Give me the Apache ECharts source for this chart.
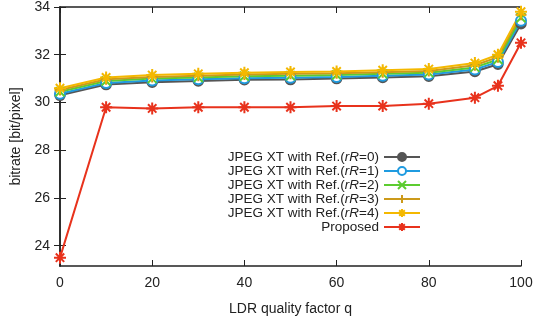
<!DOCTYPE html>
<html>
<head>
<meta charset="utf-8">
<script src="https://cdn.jsdelivr.net/npm/echarts@6/dist/echarts.min.js"></script>
<style>
  html, body { margin: 0; padding: 0; background: #fff; }
  #chart { width: 541px; height: 321px; }
</style>
</head>
<body>
<div id="chart"></div>
<script>
// LDR quality factor q
const quality = [0, 10, 20, 30, 40, 50, 60, 70, 80, 90, 95, 100]

// bitrate [bit/pixel]
const refR0 = [30.30, 30.75, 30.85, 30.90, 30.95, 30.96, 31.00, 31.05, 31.10, 31.30, 31.60, 33.30]
const refR1 = [30.37, 30.82, 30.92, 30.97, 31.02, 31.04, 31.07, 31.12, 31.17, 31.38, 31.70, 33.42]
const refR2 = [30.45, 30.90, 31.00, 31.05, 31.10, 31.12, 31.15, 31.20, 31.25, 31.47, 31.80, 33.55]
const refR3 = [30.52, 30.97, 31.07, 31.12, 31.17, 31.20, 31.22, 31.27, 31.32, 31.56, 31.90, 33.68]
const refR4 = [30.60, 31.05, 31.15, 31.20, 31.25, 31.28, 31.30, 31.35, 31.40, 31.65, 32.00, 33.80]
const proposed = [23.50, 29.80, 29.75, 29.80, 29.80, 29.80, 29.85, 29.85, 29.95, 30.20, 30.70, 32.50]

const seriesNames = [
  "JPEG XT with Ref.(rR=0)",
  "JPEG XT with Ref.(rR=1)",
  "JPEG XT with Ref.(rR=2)",
  "JPEG XT with Ref.(rR=3)",
  "JPEG XT with Ref.(rR=4)",
  "Proposed",
]
const yTicks = [24, 26, 28, 30, 32, 34]

const crossPath = "path://M0,0L10,10M10,0L0,10"
const plusPath = "path://M5,0L5,10M0,5L10,5"
const starPath = "path://M5,0L5,10M0,5L10,5M1.5,1.5L8.5,8.5M8.5,1.5L1.5,8.5"

const chart = echarts.init(document.getElementById("chart"))

function makeSeries(name, values, color, symbol, size, stroke) {
  return {
    name,
    type: "line",
    data: quality.map((q, i) => [q, values[i]]),
    symbol,
    symbolSize: size,
    lineStyle: { color, width: 2 },
    itemStyle: stroke
      ? { color, borderColor: color, borderWidth: 2 }
      : { color, borderColor: color, borderWidth: 1.5 },
    animation: false,
  }
}

const fontFamily = "Liberation Sans, Arial, sans-serif"
const axisText = { color: "#222", fontSize: 14, fontFamily }

chart.setOption({
  backgroundColor: "#fff",
  animation: false,
  grid: { left: 60, right: 20, top: 4, bottom: 49, show: false },
  legend: {
    orient: "vertical",
    align: "right",
    right: 120,
    top: 150,
    itemWidth: 36,
    itemHeight: 10,
    itemGap: 0,
    padding: 0,
    data: seriesNames,
    formatter: (name) => {
      const m = name.match(/^(.*\()rR(=\d\))$/)
      if (!m) return "{n|" + name + "}"
      return "{n|" + m[1] + "}{i|rR}{n|" + m[2] + "}"
    },
    textStyle: {
      color: "#222",
      fontFamily,
      fontSize: 13.5,
      lineHeight: 14,
      rich: {
        n: { fontSize: 13.5, lineHeight: 14, color: "#222", fontFamily },
        i: { fontSize: 13.5, lineHeight: 14, color: "#222", fontStyle: "italic", fontFamily },
      },
    },
  },
  xAxis: [
    {
      type: "value",
      min: 0,
      max: 100,
      interval: 20,
      name: "LDR quality factor q",
      nameLocation: "middle",
      nameGap: 36,
      nameTextStyle: axisText,
      axisLine: { show: true, onZero: false, lineStyle: { color: "#222", width: 1.5 } },
      axisTick: { show: true, inside: true, length: 6, lineStyle: { color: "#222" } },
      axisLabel: Object.assign({ margin: 10 }, axisText),
      splitLine: { show: false },
    },
    {
      type: "value",
      position: "top",
      min: 0,
      max: 100,
      interval: 20,
      axisLine: { show: true, lineStyle: { color: "#222", width: 1.5 } },
      axisTick: { show: true, inside: true, length: 6, lineStyle: { color: "#222" } },
      axisLabel: { show: false },
      splitLine: { show: false },
    },
  ],
  yAxis: [
    {
      type: "value",
      min: 23.15,
      max: 34,
      name: "bitrate [bit/pixel]",
      nameLocation: "middle",
      nameGap: 36,
      nameTextStyle: axisText,
      axisLine: { show: true, onZero: false, lineStyle: { color: "#222", width: 1.5 } },
      axisTick: { show: true, inside: true, length: 6, customValues: yTicks, lineStyle: { color: "#222" } },
      axisLabel: Object.assign({ margin: 10, customValues: yTicks }, axisText),
      splitLine: { show: false },
    },
    {
      type: "value",
      position: "right",
      min: 23.15,
      max: 34,
      axisLine: { show: true, lineStyle: { color: "#222", width: 1.5 } },
      axisTick: { show: true, inside: true, length: 6, customValues: yTicks, lineStyle: { color: "#222" } },
      axisLabel: { show: false },
      splitLine: { show: false },
    },
  ],
  series: [
    makeSeries(seriesNames[0], refR0, "#555555", "circle", 10, false),
    makeSeries(seriesNames[1], refR1, "#1f9be0", "emptyCircle", 10, false),
    makeSeries(seriesNames[2], refR2, "#5ccc30", crossPath, 9, true),
    makeSeries(seriesNames[3], refR3, "#cc9a1a", plusPath, 11, true),
    makeSeries(seriesNames[4], refR4, "#f4b800", starPath, 12, true),
    makeSeries(seriesNames[5], proposed, "#e8321c", starPath, 12, true),
  ],
})
</script>
</body>
</html>
